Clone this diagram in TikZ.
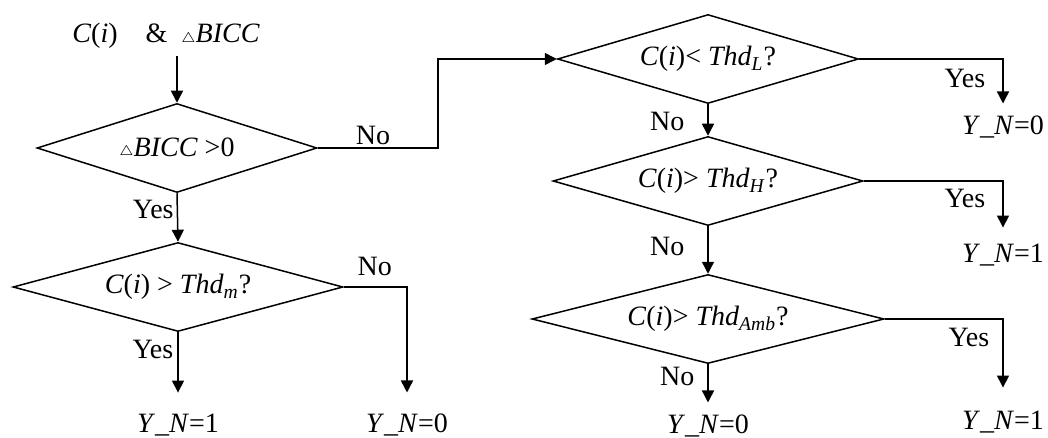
\documentclass[tikz,border=0pt]{standalone}
\usepackage{fontspec}
\setmainfont{Liberation Serif}
\usetikzlibrary{shapes.geometric,arrows.meta}

\newcommand{\tri}{{\raisebox{0.3pt}{$\scriptscriptstyle\triangle$}}}
\newcommand{\yn}[1]{\textit{Y}\_\textit{N}=#1}

\tikzset{
  test/.style={diamond, draw, line width=0.75pt, aspect=4, inner sep=1pt, minimum height=44.5pt},
  result/.style={inner sep=0pt},
  flow/.style={line width=0.75pt, -{Triangle[length=6pt,width=6pt]}},
  lbl/.style={inner sep=1pt}
}

\begin{document}
\begin{tikzpicture}[x=0.5pt, y=-0.5pt, font=\fontsize{14}{17}\selectfont]
    \useasboundingbox (0,0) rectangle (1048,438);
    % input and the left branch
    \node (input) at (166,36) {\textit{C}(\textit{i})\quad\&\enspace\tri\textit{BICC}};
    \node[test, minimum width=140pt] (d1) at (177,148) {\tri\textit{BICC} >0};
    \node[test, minimum width=165pt] (d2) at (178,287) {\textit{C}(\textit{i}) > \textit{Thd}\textsubscript{\textit{m}}?};
    \node[result] (o1) at (178,425) {\yn{1}};
    \node[result] (o2) at (407,425) {\yn{0}};
    % right branch
    \node[test, minimum width=150.5pt] (d3) at (708,59) {\textit{C}(\textit{i})< \textit{Thd}\textsubscript{\textit{L}}?};
    \node[test, minimum width=155pt] (d4) at (708,181) {\textit{C}(\textit{i})> \textit{Thd}\textsubscript{\textit{H}}?};
    \node[test, minimum width=176pt] (d5) at (708,319) {\textit{C}(\textit{i})> \textit{Thd}\textsubscript{\textit{Amb}}?};
    \node[result] (o3) at (1003,127) {\yn{0}};
    \node[result] (o4) at (1003,255) {\yn{1}};
    \node[result] (o5) at (708,426) {\yn{0}};
    \node[result] (o6) at (1003,422) {\yn{1}};

    \draw[flow] (input.south -| d1.north) -- (d1.north);
    \draw[flow] (d1.south) -- node[lbl, pos=.34, left=0.5pt] {Yes} (d2.north);
    \draw[flow] (d1.east) -- ++(120,0) node[lbl, pos=.46, above] {No} |- (d3.west);
    \draw[flow, shorten >=10.5pt] (d2.south) -- node[lbl, pos=.21, left=1pt] {Yes} (o1.north);
    \draw[flow, shorten >=10.5pt] (d2.east) -| node[lbl, pos=.245, above=4pt] {No} (o2.north);

    \draw[flow] (d3.south) -- node[lbl, pos=.56, left=10.5pt] {No} (d4.north);
    \draw[flow] (d4.south) -- node[lbl, pos=.42, left=10.5pt] {No} (d5.north);
    \draw[flow, shorten >=6pt] (d5.south) -- node[lbl, pos=.25, left=5.5pt] {No} (o5.north);
    \draw[flow, shorten >=6pt] (d3.east) -| node[lbl, pos=.67, left=7.5pt] {Yes} (o3.north);
    \draw[flow, shorten >=8pt] (d4.east) -| node[lbl, pos=.64, left=7.5pt] {Yes} (o4.north);
    \draw[flow, shorten >=11.5pt] (d5.east) -| node[lbl, pos=.6, left=5.5pt] {Yes} (o6.north);
\end{tikzpicture}
\end{document}
